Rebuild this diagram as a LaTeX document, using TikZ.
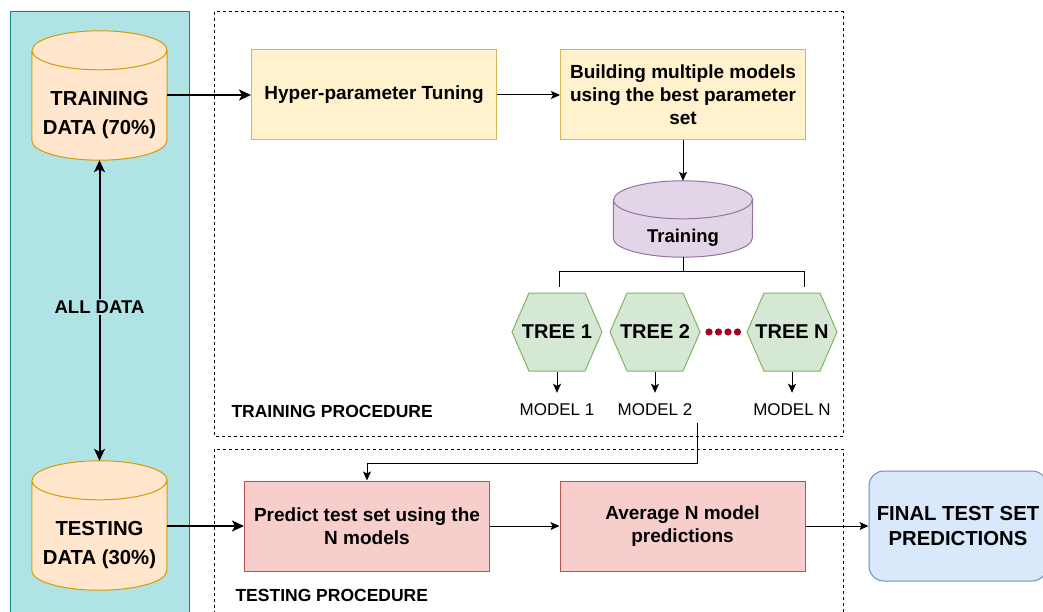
\documentclass[tikz,border=0pt]{standalone}
\usepackage{fontspec}
\setmainfont{Liberation Sans}
\usetikzlibrary{shapes,arrows.meta,positioning,calc,backgrounds}

\definecolor{tealfill}{HTML}{B0E3E6}
\definecolor{tealline}{HTML}{0E8088}
\definecolor{orfill}{HTML}{FFE6CC}
\definecolor{orline}{HTML}{D79B00}
\definecolor{yelfill}{HTML}{FFF2CC}
\definecolor{yelline}{HTML}{D6B656}
\definecolor{purfill}{HTML}{E1D5E7}
\definecolor{purline}{HTML}{9673A6}
\definecolor{grnfill}{HTML}{D5E8D4}
\definecolor{grnline}{HTML}{82B366}
\definecolor{redfill}{HTML}{F8CECC}
\definecolor{redline}{HTML}{B85450}
\definecolor{blufill}{HTML}{DAE8FC}
\definecolor{bluline}{HTML}{6C8EBF}
\definecolor{dotred}{HTML}{A20025}

% cylinder drawn round the body node #1: half width #2, cap radius #3, colour #4
\newcommand{\drawstore}[4]{%
  \draw[#4line, fill=#4fill, line width=1pt]
    ([yshift=#3]#1.north west) -- ([yshift=#3]#1.south west)
    arc[start angle=180, end angle=360, x radius=#2, y radius=#3]
    -- ([yshift=#3]#1.north east)
    arc[start angle=0, end angle=180, x radius=#2, y radius=#3] -- cycle
    ([yshift=#3]#1.north west)
    arc[start angle=180, end angle=360, x radius=#2, y radius=#3];
}

\tikzset{
  datastore/.style={rectangle, inner sep=0pt, minimum width=135pt, minimum height=90pt, align=center,
    font=\fontsize{20.3}{29}\selectfont\bfseries},
  stepbox/.style={draw, rectangle, line width=1pt, minimum width=245pt, minimum height=90pt, align=center,
    font=\fontsize{19}{23}\selectfont\bfseries},
  treebox/.style={draw=grnline, fill=grnfill, line width=1pt, signal, signal to=west and east,
    signal pointer angle=133, minimum width=90pt, minimum height=78pt, inner sep=0pt,
    font=\fontsize{20}{24}\selectfont\bfseries},
  modellabel/.style={font=\fontsize{17}{20}\selectfont, inner sep=1pt},
  conn/.style={line width=1pt, -{Stealth[length=9pt,width=8pt,inset=2pt]}},
  bigconn/.style={line width=2pt, -{Stealth[length=12pt,width=11pt,inset=3pt]}},
  procbox/.style={draw, line width=1pt, dash pattern=on 3pt off 3pt},
  proclabel/.style={anchor=west, font=\fontsize{17.5}{20}\selectfont\bfseries}
}

\begin{document}
\begin{tikzpicture}[x=1pt, y=-1pt]
\path[use as bounding box, clip] (0,0) rectangle (1043,612);

% the two procedure frames
\draw[procbox] (214,12) rectangle (843,436);
\draw[procbox] (214,449) rectangle (843,630);

% data sets (body below the top cap)
\node[datastore] (train) at (99.5,115) {TRAINING\\DATA (70\%)};
\node[datastore] (test) at (99.5,545) {TESTING\\DATA (30\%)};

% training procedure
\node[stepbox, draw=yelline, fill=yelfill] (hyper) at (374,95) {Hyper-parameter Tuning};
\node[stepbox, draw=yelline, fill=yelfill] (build) at (683,95) {Building multiple models\\using the best parameter\\set};
\node[datastore, minimum width=139pt, minimum height=38pt,
  font=\fontsize{18.5}{22}\selectfont\bfseries] (trainset) at (683,238) {Training};

% trees
\node[treebox] (t1) at (557,332) {\makebox[50pt]{TREE 1}};
\node[treebox] (t2) at (655,332) {\makebox[50pt]{TREE 2}};
\node[treebox] (tN) at (792,332) {\makebox[50pt]{TREE N}};
\fill[dotred] (709,332) circle (3.6pt) (718.5,332) circle (3.6pt) (728,332) circle (3.6pt) (737.5,332) circle (3.6pt);

\node[modellabel] (m1) at (557,410) {MODEL 1};
\node[modellabel] (m2) at (655,410) {MODEL 2};
\node[modellabel] (mN) at (792,410) {MODEL N};

\node[proclabel] (trainlbl) at (228,411) {TRAINING PROCEDURE};

% testing procedure
\node[stepbox, draw=redline, fill=redfill] (pred) at (367,526) {Predict test set using the\\N models};
\node[stepbox, draw=redline, fill=redfill] (avg) at (682.5,526) {Average N model\\predictions};
\node[proclabel] (testlbl) at (232,595) {TESTING PROCEDURE};

\node[draw=bluline, fill=blufill, line width=1pt, rounded corners=15pt, minimum width=178pt, minimum height=110pt,
  align=center, font=\fontsize{20.3}{25}\selectfont\bfseries] (final) at (958,526) {FINAL TEST SET\\PREDICTIONS};

% data panel and cylinders behind the texts
\begin{scope}[on background layer]
\draw[fill=tealfill, draw=tealline, line width=1pt] (10,12) rectangle (189,630);
\drawstore{train}{67.5pt}{19.5pt}{or}
\drawstore{test}{67.5pt}{19.5pt}{or}
\drawstore{trainset}{69.5pt}{19pt}{pur}
\end{scope}

% connectors
\draw[bigconn] (hyper.west -| train.east) -- (hyper.west);
\draw[conn] (hyper) -- (build);
\draw[conn] (build.south) -- ([yshift=38pt]trainset.north);
\draw[line width=1pt] (trainset.south) -- ++(0,14) coordinate (fork);
\draw[line width=1pt] ([xshift=2pt,yshift=6pt]t1.north) |- (fork) -| ([xshift=12pt,yshift=6pt]tN.north);
\draw[conn] (t1.south) -- ([yshift=10pt]m1.north);
\draw[conn] (t2.south) -- ([yshift=10pt]m2.north);
\draw[conn] (tN.south) -- ([yshift=10pt]mN.north);
\draw[line width=2pt, {Stealth[length=12pt,width=11pt,inset=3pt]}-{Stealth[length=12pt,width=11pt,inset=3pt]}]
  (train.south) -- node[pos=0.488, fill=tealfill, inner sep=2pt, font=\fontsize{18.5}{22}\selectfont\bfseries] (alldata) {ALL DATA} ([yshift=39pt]test.north);
\draw[conn] ([xshift=42pt,yshift=-6pt]m2.south) -- ++(0,40) -| (pred.north);
\draw[bigconn] (pred.west -| test.east) -- (pred.west);
\draw[conn] (pred) -- (avg);
\draw[conn] (avg) -- (final);
\end{tikzpicture}
\end{document}
